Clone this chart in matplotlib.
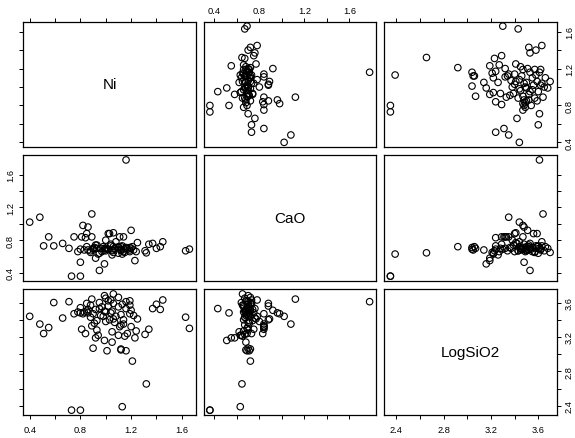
import numpy as np
import matplotlib.pyplot as plt

plt.rcParams['font.family'] = ['Liberation Sans', 'DejaVu Sans']

# values (one entry per sample)
ni = [1.66, 1.63, 1.43, 1.37, 1.40, 1.45, 1.21, 1.31, 1.34, 1.23,
      1.24, 1.20, 1.25, 1.22, 1.19, 1.16, 1.12, 1.15, 1.17, 1.10,
      1.11, 1.12, 1.14, 1.20, 1.16, 1.19, 1.19, 1.16, 1.05, 0.99,
      1.01, 0.90, 1.00, 1.03, 1.06, 1.08, 1.00, 0.99, 0.95, 0.97,
      1.02, 1.06, 1.02, 1.00, 0.99, 1.06, 1.04, 0.92, 0.94, 0.93,
      0.89, 0.91, 0.93, 0.84, 0.81, 0.90, 0.86, 0.83, 0.80, 0.78,
      0.75, 0.85, 0.86, 0.82, 0.85, 0.89, 0.66, 0.71, 0.59, 0.51,
      0.55, 0.48, 0.40, 0.80, 0.73, 1.13, 1.32, 0.96, 1.05, 1.10,
      1.12, 0.92, 0.88, 0.98, 1.13, 1.14, 0.80, 1.04, 0.95, 0.88,
      1.07, 1.10, 1.12, 1.05]
cao = [0.69, 0.67, 0.72, 0.76, 0.70, 0.78, 0.72, 0.67, 0.75, 0.55,
       0.66, 0.70, 0.77, 0.68, 0.71, 0.71, 0.72, 0.65, 0.69, 0.64,
       0.84, 0.67, 0.84, 0.92, 0.70, 0.66, 0.68, 1.78, 0.68, 0.51,
       0.69, 0.70, 0.80, 0.88, 0.89, 0.78, 0.70, 0.68, 0.43, 0.66,
       0.88, 0.72, 0.69, 0.67, 0.70, 0.65, 0.73, 0.58, 0.63, 0.70,
       0.84, 0.71, 0.74, 0.83, 0.84, 0.69, 0.96, 0.68, 0.53, 0.66,
       0.84, 0.72, 0.68, 0.98, 0.88, 1.12, 0.76, 0.70, 0.73, 0.73,
       0.84, 1.08, 1.02, 0.36, 0.36, 0.63, 0.645, 0.70, 0.67, 0.71,
       0.69, 0.74, 0.65, 0.72, 0.73, 0.66, 0.69, 0.75, 0.64, 0.67,
       0.70, 0.72, 0.68, 0.62]
logsio2 = [3.30, 3.43, 3.52, 3.53, 3.58, 3.63, 2.92, 3.23, 3.29, 3.19,
           3.27, 3.32, 3.41, 3.45, 3.47, 3.04, 3.06, 3.21, 3.24, 3.22,
           3.32, 3.34, 3.35, 3.51, 3.53, 3.57, 3.62, 3.61, 3.14, 3.16,
           3.04, 3.07, 3.38, 3.40, 3.41, 3.44, 3.49, 3.50, 3.53, 3.55,
           3.56, 3.59, 3.62, 3.65, 3.68, 3.70, 3.63, 3.19, 3.22, 3.28,
           3.33, 3.36, 3.39, 3.24, 3.29, 3.47, 3.48, 3.49, 3.48, 3.49,
           3.47, 3.50, 3.52, 3.47, 3.59, 3.64, 3.42, 3.61, 3.60, 3.24,
           3.31, 3.35, 3.44, 2.35, 2.35, 2.39, 2.655, 3.45, 3.50, 3.55,
           3.46, 3.52, 3.57, 3.44, 3.58, 3.40, 3.54, 3.48, 3.60, 3.43,
           3.37, 3.66, 3.05, 3.26]

names = ['Ni', 'CaO', 'LogSiO2']
data = [np.array(ni), np.array(cao), np.array(logsio2)]
ticks = [np.arange(0.4, 1.61, 0.2), np.arange(0.4, 1.61, 0.2),
         np.arange(2.4, 3.61, 0.2)]


def lims(v):
    # R style range with 4% extension
    lo, hi = v.min(), v.max()
    d = (hi - lo) * 0.04
    return lo - d, hi + d


def tick_labels(t):
    return ['%.1f' % v if k % 2 == 0 else '' for k, v in enumerate(t)]


W, H = 575.0, 439.0
lefts = [23.3, 203.5, 384.0]
tops = [22.5, 156.3, 290.3]
pw, ph = 172.5, 125.5

fig = plt.figure(figsize=(5.75, 4.39), dpi=100)

for i in range(3):
    for j in range(3):
        ax = fig.add_axes([lefts[j] / W, 1 - (tops[i] + ph) / H, pw / W, ph / H])
        if i == j:
            ax.text(0.5, 0.5, names[i], ha='center', va='center',
                    fontsize=11, transform=ax.transAxes)
        else:
            ax.scatter(data[j], data[i], s=22, facecolors='none',
                       edgecolors='black', linewidths=0.8)
        ax.set_xlim(lims(data[j]))
        ax.set_ylim(lims(data[i]))
        ax.set_xticks(ticks[j])
        ax.set_xticklabels(tick_labels(ticks[j]))
        ax.set_yticks(ticks[i])
        ax.set_yticklabels(tick_labels(ticks[i]), rotation=90, va='center')
        for s in ax.spines.values():
            s.set_linewidth(0.9)
        ax.tick_params(direction='out', length=3, width=0.7, labelsize=6.7,
                       top=(i == 0), bottom=(i == 2),
                       left=(j == 0), right=(j == 2),
                       labeltop=(i == 0 and j == 1),
                       labelbottom=(i == 2 and j != 1),
                       labelleft=(j == 0 and i == 1),
                       labelright=(j == 2 and i != 1))
        ax.tick_params(axis='x', pad=4.5)
        if i == 0:
            ax.tick_params(axis='x', pad=1.5)
        ax.tick_params(axis='y', pad=3)

fig.savefig('out.png', dpi=100)
